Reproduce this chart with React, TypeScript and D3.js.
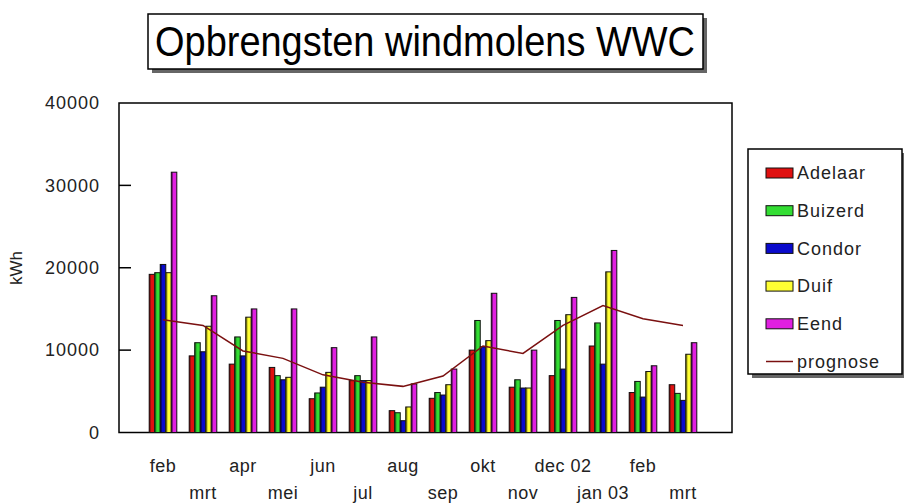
import React from "react";
import * as d3 from "d3";

const months = ["feb", "mrt", "apr", "mei", "jun", "jul", "aug", "sep", "okt", "nov", "dec 02", "jan 03", "feb", "mrt"];
const seriesNames = ["Adelaar", "Buizerd", "Condor", "Duif", "Eend"];
const seriesColors = ["#e01010", "#33dd33", "#0a0acc", "#ffff33", "#e020e0"];
const seriesDark = ["#8a1010", "#1e7e1e", "#06066e", "#8a8a10", "#7a107a"];

const adelaar = [19200, 9300, 8300, 7900, 4100, 6300, 2650, 4150, 10000, 5500, 6900, 10500, 4850, 5800];
const buizerd = [19400, 10900, 11600, 6900, 4800, 6900, 2400, 4850, 13600, 6400, 13600, 13300, 6200, 4750];
const condor = [20400, 9800, 9300, 6400, 5500, 6300, 1430, 4550, 10400, 5400, 7700, 8300, 4300, 3900];
const duif = [19400, 12900, 14000, 6700, 7300, 6300, 3100, 5800, 11150, 5400, 14300, 19500, 7400, 9500];
const eend = [31600, 16600, 15000, 15000, 10300, 11600, 5900, 7700, 16900, 10000, 16400, 22100, 8100, 10900];
const prognose = [13700, 13000, 9900, 9000, 7000, 6100, 5600, 6850, 10500, 9600, 13000, 15400, 13800, 13000];

const yTicks = [0, 10000, 20000, 30000, 40000];

const FONT = "'Liberation Sans', Arial, sans-serif";

export default function App() {
  const series = [adelaar, buizerd, condor, duif, eend];

  // plot frame
  const left = 119, right = 732, top = 103, bottom = 432.5;

  const y = d3.scaleLinear().domain([0, 40000]).range([bottom, top]);
  const x = d3
    .scaleBand<number>()
    .domain(d3.range(months.length))
    .range([143, 703])
    .paddingInner(0.31)
    .paddingOuter(0.155);
  const xi = d3
    .scaleBand<number>()
    .domain(d3.range(seriesNames.length))
    .range([0, x.bandwidth()]);

  const line = d3
    .line<number>()
    .x((_, i) => (x(i) as number) + x.bandwidth() / 2)
    .y((d) => y(d));

  return (
    <div style={{ position: "fixed", left: 0, top: 0 }}>
      <svg width={904} height={504} style={{ display: "block", background: "#fff" }}>
        {/* title */}
        <rect x={152} y={18} width={555} height={55} fill="#666" />
        <rect x={148} y={14} width={555} height={55} fill="#fff" stroke="#000" strokeWidth={1.5} />
        <text
          x={425}
          y={56}
          textAnchor="middle"
          fontFamily={FONT}
          fontSize={42}
          textLength={540}
          lengthAdjust="spacingAndGlyphs"
        >
          Opbrengsten windmolens WWC
        </text>

        {/* frame */}
        <rect x={left} y={top} width={right - left} height={bottom - top} fill="#fff" stroke="#000" strokeWidth={1.5} />

        {/* y axis */}
        {yTicks.map((t) => (
          <g key={t}>
            {t > 0 && t < 40000 && (
              <line x1={left} x2={left + 12} y1={y(t)} y2={y(t)} stroke="#000" strokeWidth={1.5} />
            )}
            <text
              x={100}
              y={y(t)}
              dy="0.35em"
              textAnchor="end"
              fontFamily={FONT}
              fontSize={18}
              letterSpacing={1}
              fill="#222"
            >
              {t}
            </text>
          </g>
        ))}
        <text
          transform={`translate(22,268) rotate(-90)`}
          textAnchor="middle"
          fontFamily={FONT}
          fontSize={17}
          fill="#222"
        >
          kWh
        </text>

        {/* bars */}
        {months.map((m, i) => (
          <g key={i} transform={`translate(${x(i)},0)`}>
            {series.map((s, k) => {
              const bx = xi(k) as number;
              const bw = xi.bandwidth();
              const by = y(s[i]);
              const bh = y(0) - by;
              return (
                <g key={k}>
                  <rect x={bx} y={by} width={bw} height={bh} fill={seriesColors[k]} />
                  <rect x={bx} y={by} width={1.6} height={bh} fill={seriesDark[k]} />
                  <rect x={bx} y={by} width={bw} height={bh} fill="none" stroke="#111" strokeWidth={1} />
                </g>
              );
            })}
          </g>
        ))}

        {/* prognose line */}
        <path d={line(prognose) || ""} fill="none" stroke="#7a1010" strokeWidth={1.5} />

        {/* x labels */}
        {months.map((m, i) => (
          <text
            key={i}
            x={(x(i) as number) + x.bandwidth() / 2}
            y={i % 2 === 0 ? 472 : 499}
            textAnchor="middle"
            fontFamily={FONT}
            fontSize={18}
            letterSpacing={0.5}
            fill="#222"
          >
            {m}
          </text>
        ))}

        {/* legend */}
        <rect x={752} y={153} width={154} height={225} fill="#666" />
        <rect x={748} y={149} width={154} height={225} fill="#fff" stroke="#000" strokeWidth={1.5} />
        {seriesNames.map((n, k) => {
          const ly = 173 + k * 37.7;
          return (
            <g key={n}>
              <rect x={766} y={ly - 5} width={27} height={10} fill={seriesColors[k]} stroke="#111" strokeWidth={1} />
              <text x={797} y={ly} dy="0.35em" fontFamily={FONT} fontSize={18} letterSpacing={1} fill="#222">
                {n}
              </text>
            </g>
          );
        })}
        <line x1={766} x2={793} y1={173 + 5 * 37.7} y2={173 + 5 * 37.7} stroke="#7a1010" strokeWidth={1.5} />
        <text x={797} y={173 + 5 * 37.7} dy="0.35em" fontFamily={FONT} fontSize={18} letterSpacing={1} fill="#222">
          prognose
        </text>
      </svg>
    </div>
  );
}
